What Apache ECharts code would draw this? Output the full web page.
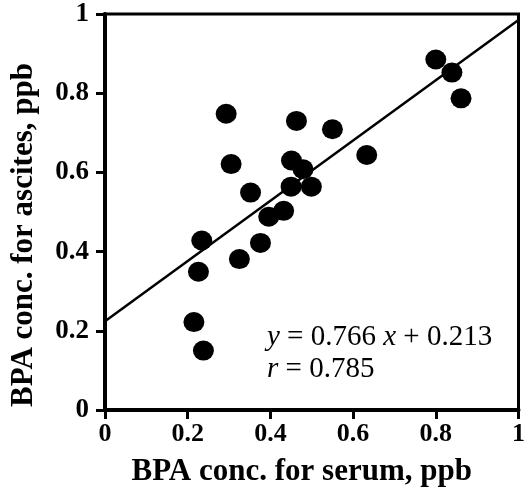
<!DOCTYPE html>
<html>
<head>
<meta charset="utf-8">
<script src="https://cdn.jsdelivr.net/npm/echarts@6/dist/echarts.min.js"></script>
<style>
  html, body { margin: 0; padding: 0; background: #fff; }
  #main { width: 528px; height: 492px; }
</style>
</head>
<body>
<div id="main"></div>
<script>
// serum (x) vs ascites (y)
var serum = [0.293, 0.305, 0.463, 0.550, 0.633, 0.800, 0.839, 0.861, 0.451, 0.479,
             0.450, 0.499, 0.352, 0.432, 0.396, 0.376, 0.325, 0.234, 0.226, 0.215, 0.238];
var ascites = [0.748, 0.621, 0.730, 0.709, 0.644, 0.885, 0.852, 0.787, 0.630, 0.608,
               0.564, 0.564, 0.549, 0.503, 0.488, 0.422, 0.381, 0.428, 0.349, 0.222, 0.150];

// regression line ends as drawn
var fitX = [0, 1];
var fitY = [0.224, 0.985];

var xTitle = 'BPA conc. for serum, ppb';
var yTitle = 'BPA conc. for ascites, ppb';

var chartDom = document.getElementById('main');
var myChart = echarts.init(chartDom, null, { renderer: 'canvas' });

var FONT = '"Liberation Serif", "Times New Roman", serif';

var points = serum.map(function (v, i) { return [v, ascites[i]]; });
var fitLine = fitX.map(function (v, i) { return [v, fitY[i]]; });

function tickFmt(v) {
    if (v === 0 || v === 1) return String(v);
    return v.toFixed(1);
}

var option = {
    animation: false,
    backgroundColor: '#fff',
    grid: {
        left: 104,
        right: 3,
        top: 14,
        bottom: 77,
        show: true,
        borderColor: '#000',
        borderWidth: 3
    },
    xAxis: {
        type: 'value',
        min: 0,
        max: 1,
        interval: 0.2,
        axisLine: { show: true, lineStyle: { color: '#000', width: 4 } },
        axisTick: { show: true, inside: false, length: 9, lineStyle: { color: '#000', width: 3 } },
        axisLabel: {
            color: '#000', fontFamily: FONT, fontWeight: 'bold', fontSize: 26,
            margin: 11, formatter: tickFmt
        },
        splitLine: { show: false },
        name: xTitle,
        nameLocation: 'middle',
        nameGap: 46,
        nameTextStyle: {
            color: '#000', fontFamily: FONT, fontWeight: 'bold', fontSize: 31,
            padding: [0, 20, 0, 0]
        }
    },
    yAxis: {
        type: 'value',
        min: 0,
        max: 1,
        interval: 0.2,
        axisLine: { show: true, lineStyle: { color: '#000', width: 4 } },
        axisTick: { show: true, inside: false, length: 9, lineStyle: { color: '#000', width: 3 } },
        axisLabel: {
            color: '#000', fontFamily: FONT, fontWeight: 'bold', fontSize: 27,
            margin: 16, formatter: tickFmt
        },
        splitLine: { show: false },
        name: yTitle,
        nameLocation: 'middle',
        nameGap: 66,
        nameRotate: 90,
        nameTextStyle: {
            color: '#000', fontFamily: FONT, fontWeight: 'bold', fontSize: 31,
            padding: [0, 46, 0, 0]
        }
    },
    graphic: [
        {
            type: 'text',
            left: 267,
            top: 321,
            style: {
                text: '{i|y} = 0.766 {i|x} + 0.213\n{i|r} = 0.785',
                fontFamily: FONT,
                fontSize: 29,
                lineHeight: 32,
                fill: '#000',
                rich: {
                    i: { fontFamily: FONT, fontSize: 29, fontStyle: 'italic', fill: '#000' }
                }
            }
        }
    ],
    series: [
        {
            type: 'line',
            data: fitLine,
            showSymbol: false,
            lineStyle: { color: '#000', width: 2.5 },
            z: 2,
            silent: true
        },
        {
            type: 'scatter',
            data: points,
            symbol: 'circle',
            symbolSize: [21, 20],
            itemStyle: { color: '#000', opacity: 1 },
            z: 3
        }
    ]
};

myChart.setOption(option);

window.addEventListener('resize', function () {
    myChart.resize();
});
</script>
</body>
</html>
